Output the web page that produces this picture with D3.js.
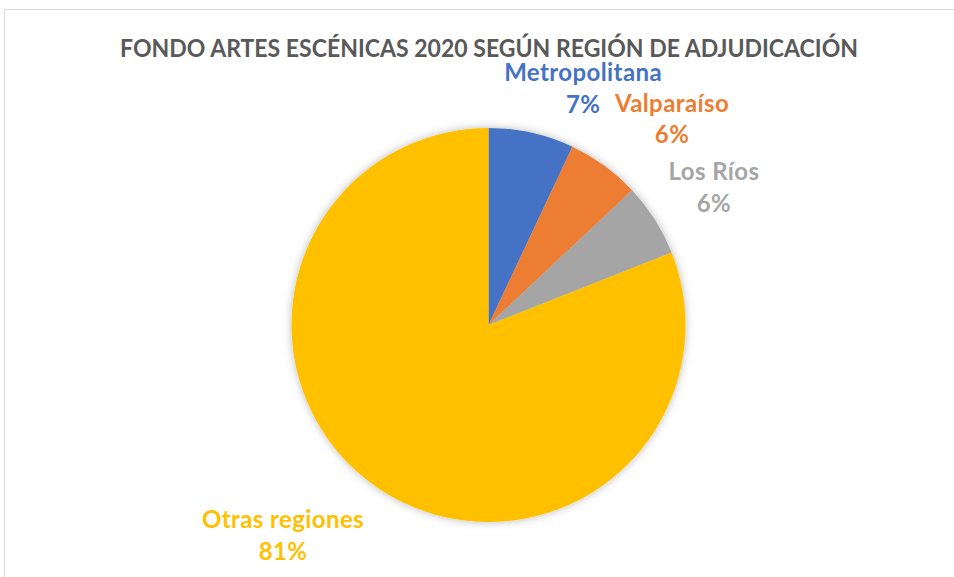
<!DOCTYPE html>
<html>
<head>
<meta charset="utf-8">
<script src="https://cdn.jsdelivr.net/npm/d3@7"></script>
<style>
  html, body { margin: 0; padding: 0; background: #fff; }
  svg { display: block; }
</style>
</head>
<body>
<svg id="chart" width="954" height="577"></svg>
<script>
// Data
const regions = ["Metropolitana", "Valparaíso", "Los Ríos", "Otras regiones"];
const shares = [7, 6, 6, 81];
const colors = ["#4472C4", "#ED7D31", "#A5A5A5", "#FFC000"];
const title = "FONDO ARTES ESCÉNICAS 2020 SEGÚN REGIÓN DE ADJUDICACIÓN";

// Layout
const W = 954, H = 577;
const cx = 488.5, cy = 325, R = 197;
// label placement per slice: [angle in degrees clockwise from 12 o'clock, distance from center]
const labelPlace = [[21.8, 254.7], [41.7, 275.9], [58.7, 263.9], [224.25, 294.5]];
const FONT = "Lato, 'Open Sans', sans-serif";
const LABEL_SIZE = 24, LINE_GAP = 31.5;

const svg = d3.select("#chart");

// chart area border
svg.append("rect")
  .attr("x", 4.5).attr("y", 9.5)
  .attr("width", W + 20).attr("height", H + 20)
  .attr("fill", "#fff")
  .attr("stroke", "#D9D9D9").attr("stroke-width", 1);

// soft shadow around the pie
const defs = svg.append("defs");
const f = defs.append("filter").attr("id", "pieShadow")
  .attr("x", "-20%").attr("y", "-20%").attr("width", "140%").attr("height", "140%");
f.append("feDropShadow")
  .attr("dx", 0).attr("dy", 0).attr("stdDeviation", 4)
  .attr("flood-color", "#000").attr("flood-opacity", 0.28);

// title
svg.append("text")
  .attr("x", 489).attr("y", 57)
  .attr("text-anchor", "middle")
  .attr("font-family", FONT)
  .attr("font-weight", 700)
  .attr("font-size", 25)
  .attr("fill", "#595959")
  .attr("textLength", 738)
  .attr("lengthAdjust", "spacingAndGlyphs")
  .text(title);

// pie
const data = regions.map((r, i) => ({ region: r, value: shares[i], color: colors[i] }));
const pie = d3.pie().value(d => d.value).sort(null);
const arc = d3.arc().innerRadius(0).outerRadius(R);
const arcs = pie(data);

const g = svg.append("g")
  .attr("transform", `translate(${cx},${cy})`)
  .attr("filter", "url(#pieShadow)");

g.selectAll("path")
  .data(arcs)
  .join("path")
  .attr("d", arc)
  .attr("fill", d => d.data.color);

// labels: category name and percentage, two centered lines
const labels = svg.append("g").attr("transform", `translate(${cx},${cy})`);
arcs.forEach((a, i) => {
  const [ang, dist] = labelPlace[i];
  const [x, y] = d3.pointRadial(ang * Math.PI / 180, dist);
  const txt = labels.append("text")
    .attr("text-anchor", "middle")
    .attr("font-family", FONT)
    .attr("font-weight", 700)
    .attr("font-size", LABEL_SIZE)
    .attr("letter-spacing", 0.4)
    .attr("fill", a.data.color);
  txt.append("tspan").attr("x", x).attr("y", y - 7.5).text(a.data.region);
  txt.append("tspan").attr("x", x).attr("y", y - 7.5 + LINE_GAP)
    .text(d3.format(".0f")(a.data.value) + "%");
});
</script>
</body>
</html>
